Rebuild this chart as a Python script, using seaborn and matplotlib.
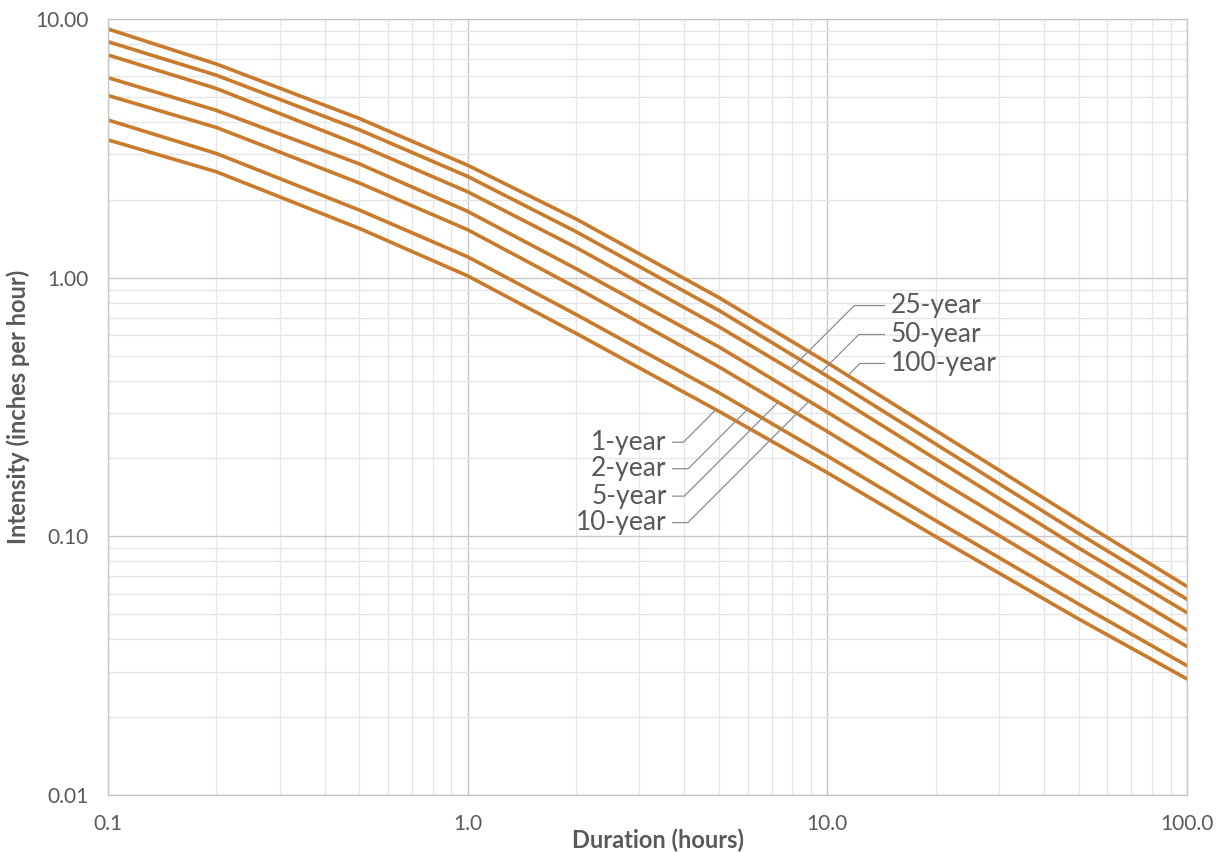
import numpy as np
import pandas as pd
import matplotlib
matplotlib.use("Agg")
import matplotlib.pyplot as plt
import seaborn as sns
from matplotlib.ticker import FixedLocator, LogLocator, NullFormatter

# durations (hours) and intensities (inches per hour)
durations = [0.1, 0.2, 0.5, 1, 2, 5, 10, 20, 50, 100]

periods = ["1-year", "2-year", "5-year", "10-year", "25-year", "50-year", "100-year"]

yr1 = [3.41, 2.567, 1.550, 1.016, 0.6095, 0.3041, 0.1762, 0.0998, 0.0479, 0.0281]
yr2 = [4.07, 3.021, 1.825, 1.204, 0.7211, 0.3589, 0.2045, 0.1150, 0.0547, 0.0316]
yr5 = [5.06, 3.809, 2.322, 1.532, 0.9162, 0.4519, 0.2542, 0.1410, 0.0659, 0.0375]
yr10 = [5.93, 4.435, 2.753, 1.804, 1.084, 0.5395, 0.302, 0.1675, 0.0776, 0.0434]
yr25 = [7.26, 5.388, 3.255, 2.148, 1.309, 0.6457, 0.364, 0.1991, 0.0901, 0.0507]
yr50 = [8.17, 6.065, 3.73, 2.462, 1.507, 0.7466, 0.4159, 0.2276, 0.1025, 0.0571]
yr100 = [9.15, 6.70, 4.125, 2.72, 1.687, 0.837, 0.469, 0.2567, 0.1156, 0.0640]

series = [yr1, yr2, yr5, yr10, yr25, yr50, yr100]

# where each leader line touches its curve (duration) and where its label sits
leader_dur = [4.9, 6.0, 7.3, 8.9, 7.9, 9.6, 11.4]
label_x = [3.57, 3.57, 3.57, 3.57, 15.0, 15.0, 15.0]
label_y = [0.231, 0.1826, 0.143, 0.113, 0.78, 0.603, 0.466]

x_ticks = [0.1, 1, 10, 100]
x_ticklabels = ["0.1", "1.0", "10.0", "100.0"]
y_ticks = [0.01, 0.1, 1, 10]
y_ticklabels = ["0.01", "0.10", "1.00", "10.00"]

rows = []
for name, vals in zip(periods, series):
    for d, v in zip(durations, vals):
        rows.append({"Duration": d, "Intensity": v, "Period": name})
df = pd.DataFrame(rows)

sns.set_style("white")
plt.rcParams["font.family"] = ["Lato", "DejaVu Sans"]

line_color = "#C97A2A"
text_color = "#595959"

fig = plt.figure(figsize=(12.23, 8.52), dpi=100)
ax = fig.add_axes([108 / 1223, 1 - 795 / 852, 1079 / 1223, 776 / 852])

sns.lineplot(
    data=df,
    x="Duration",
    y="Intensity",
    hue="Period",
    palette=[line_color] * len(periods),
    linewidth=2.6,
    legend=False,
    ax=ax,
)

ax.set_xscale("log")
ax.set_yscale("log")
ax.set_xlim(0.1, 100)
ax.set_ylim(0.01, 10)

ax.xaxis.set_major_locator(FixedLocator(x_ticks))
ax.set_xticklabels(x_ticklabels)
ax.yaxis.set_major_locator(FixedLocator(y_ticks))
ax.set_yticklabels(y_ticklabels)
ax.xaxis.set_minor_locator(LogLocator(base=10, subs=np.arange(2, 10)))
ax.yaxis.set_minor_locator(LogLocator(base=10, subs=np.arange(2, 10)))
ax.xaxis.set_minor_formatter(NullFormatter())
ax.yaxis.set_minor_formatter(NullFormatter())

ax.grid(which="major", color="#C8C8C8", linewidth=1.0)
ax.grid(which="minor", color="#E6E6E6", linewidth=1.0)
ax.set_axisbelow(True)

ax.tick_params(which="both", length=0)
ax.tick_params(axis="x", labelsize=15, labelcolor=text_color, pad=14)
ax.tick_params(axis="y", labelsize=15, labelcolor=text_color, pad=14)

for sp in ax.spines.values():
    sp.set_color("#C8C8C8")
    sp.set_linewidth(1.0)

ax.set_xlabel("Duration (hours)", fontsize=17, fontweight="bold", color=text_color)
ax.set_ylabel("Intensity (inches per hour)", fontsize=17, fontweight="bold", color=text_color)
ax.xaxis.set_label_coords(0.51, -0.043)
ax.yaxis.set_label_coords(-0.072, 0.5)

# labels with leader lines
for name, vals, d, lx, ly in zip(periods, series, leader_dur, label_x, label_y):
    ty = 10 ** np.interp(np.log10(d), np.log10(durations), np.log10(vals))
    ha = "right" if lx < d else "left"
    ax.annotate(
        name,
        xy=(d, ty),
        xytext=(lx, ly),
        ha=ha,
        va="center",
        fontsize=19,
        color=text_color,
        arrowprops=dict(
            arrowstyle="-",
            color="#8C8C8C",
            linewidth=0.9,
            shrinkA=2,
            shrinkB=0,
            connectionstyle="angle,angleA=0,angleB=45,rad=0",
        ),
    )

plt.savefig("out.png", dpi=100)
